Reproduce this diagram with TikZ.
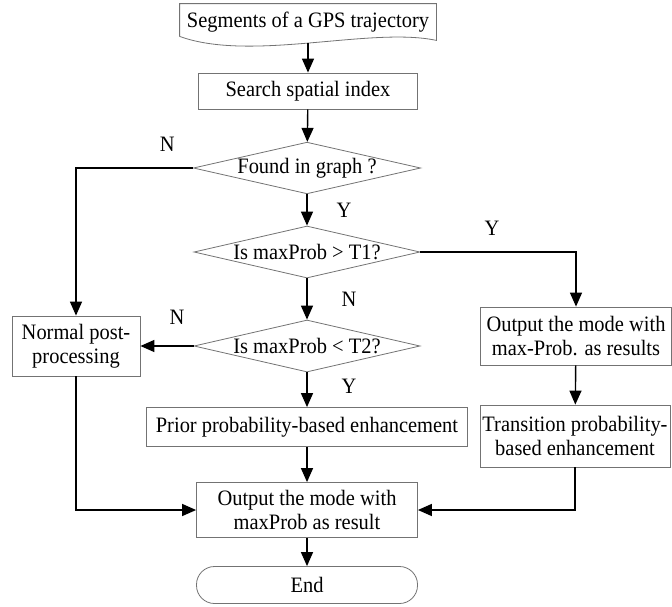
\documentclass[tikz,border=0pt]{standalone}
\usepackage{fontspec}
\setmainfont[FakeStretch=0.93]{Liberation Serif}
\usetikzlibrary{shapes.geometric,arrows.meta,calc}

\begin{document}
\begin{tikzpicture}[x=1pt, y=-1pt,
  box/.style={draw=black!55, line width=0.8pt, rectangle, align=center, inner sep=2pt},
  dec/.style={draw=black!55, line width=0.8pt, diamond, aspect=4.4, inner sep=0pt, minimum width=226pt, minimum height=52pt},
  arr/.style={line width=1.4pt, -{Triangle[length=14pt,width=12pt]}},
  lbl/.style={inner sep=0pt},
  every node/.style={font=\fontsize{22}{24}\selectfont}
]
  \useasboundingbox (0,0) rectangle (672,606);
  \node[box, draw=none, minimum width=256pt, minimum height=36pt] (seg) at (308,22) {Segments of a GPS trajectory};
  \draw[draw=black!55, line width=0.8pt] ([yshift=4pt]seg.south west) -- (seg.north west) -- (seg.north east) -- (seg.south east)
    .. controls ($(seg.south)+(63,-14)$) and ($(seg.south)+(-57,22)$) .. ([yshift=4pt]seg.south west);
  \node[box, minimum width=219pt, minimum height=36pt] (search) at (308,91) {Search spatial index};
  \node[dec, minimum width=227pt, minimum height=50pt] (found) at (307,168) {Found in graph ?};
  \node[dec] (t1) at (307,252) {Is maxProb > T1?};
  \node[dec] (t2) at (307,346) {Is maxProb < T2?};
  \node[box, minimum width=128pt, minimum height=60pt] (normal) at (76,346) {Normal post-\\processing};
  \node[box, minimum width=321pt, minimum height=39pt] (prior) at (307,427) {Prior probability-based enhancement};
  \node[box, minimum width=191pt, minimum height=58pt] (maxres) at (576,336) {Output the mode with\\max-Prob. as results};
  \node[box, minimum width=190pt, minimum height=62pt] (trans) at (575,436) {Transition probability-\\based enhancement};
  \node[box, minimum width=221pt, minimum height=55pt] (output) at (307,510) {Output the mode with\\maxProb as result};
  \node[box, rounded corners=18pt, minimum width=221pt, minimum height=37pt] (end) at (307,585) {End};

  \draw[arr] ([yshift=-2.5pt]seg.south) -- (search);
  \draw[arr] (search) -- (found);
  \draw[arr] (found) -- node[lbl, right=29pt]{Y} (t1);
  \draw[arr] (t1) -- node[lbl, right=34pt]{N} (t2);
  \draw[arr] (t2) -- node[lbl, pos=0.4, right=34pt]{Y} (prior);
  \draw[arr] (found) -| node[lbl, pos=0.11, above=16pt]{N} (normal);
  \draw[arr] (t1) -| node[lbl, pos=0.23, above=16pt]{Y} (maxres);
  \draw[arr] (t2) -- node[lbl, pos=0.31, above=21pt]{N} (normal);
  \draw[arr] (maxres) -- (trans);
  \draw[arr] (prior) -- (output);
  \draw[arr] (normal) |- (output);
  \draw[arr] (trans) |- (output);
  \draw[arr] (output) -- (end);
\end{tikzpicture}
\end{document}
